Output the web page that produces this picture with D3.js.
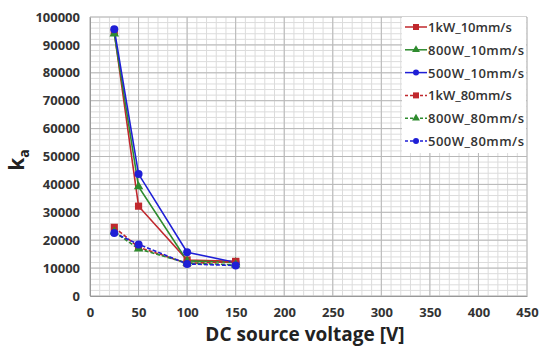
<!DOCTYPE html>
<html>
<head>
<meta charset="utf-8">
<script src="https://cdn.jsdelivr.net/npm/d3@7"></script>
<style>
  body { margin: 0; background: #fff; }
  text { font-family: "Open Sans", "Noto Sans", sans-serif; }
</style>
</head>
<body>
<script>
// voltages on the x axis
var voltages = [25, 50, 100, 150];

var seriesNames = ["1kW_10mm/s", "800W_10mm/s", "500W_10mm/s", "1kW_80mm/s", "800W_80mm/s", "500W_80mm/s"];
var seriesColors = ["#c0282d", "#2e8b2e", "#1f1fd6", "#c0282d", "#2e8b2e", "#1f1fd6"];
var seriesShapes = ["square", "triangle", "circle", "square", "triangle", "circle"];
var seriesDashed = [false, false, false, true, true, true];

var kw1_10 = [94500, 32200, 12900, 12400];
var w800_10 = [94000, 39200, 12600, 12000];
var w500_10 = [95600, 43700, 15700, 12000];
var kw1_80 = [24600, 17500, 11700, 12300];
var w800_80 = [23000, 16900, 11800, 11200];
var w500_80 = [22600, 18500, 11500, 10900];

var seriesValues = [kw1_10, w800_10, w500_10, kw1_80, w800_80, w500_80];

var xTicks = [0, 50, 100, 150, 200, 250, 300, 350, 400, 450];
var yTicks = [0, 10000, 20000, 30000, 40000, 50000, 60000, 70000, 80000, 90000, 100000];

var margin = {top: 17, right: 23, bottom: 62, left: 90},
    width = 550 - margin.left - margin.right,
    height = 358 - margin.top - margin.bottom;

var svg = d3.select("body").append("svg")
    .attr("width", 550)
    .attr("height", 358);

var g = svg.append("g")
    .attr("transform", "translate(" + margin.left + "," + margin.top + ")");

var x = d3.scaleLinear().domain([0, 450]).range([0, width]);
var y = d3.scaleLinear().domain([0, 100000]).range([height, 0]);

// minor grid
g.append("g")
  .selectAll("line")
  .data(d3.range(0, 451, 10))
  .join("line")
  .attr("x1", d => x(d)).attr("x2", d => x(d))
  .attr("y1", 0).attr("y2", height)
  .attr("stroke", "#dcdcdc").attr("stroke-width", 1);

g.append("g")
  .selectAll("line")
  .data(d3.range(0, 100001, 2000))
  .join("line")
  .attr("y1", d => y(d)).attr("y2", d => y(d))
  .attr("x1", 0).attr("x2", width)
  .attr("stroke", "#dcdcdc").attr("stroke-width", 1);

// major grid
g.append("g")
  .selectAll("line")
  .data(xTicks)
  .join("line")
  .attr("x1", d => x(d)).attr("x2", d => x(d))
  .attr("y1", 0).attr("y2", height)
  .attr("stroke", "#b8b8b8").attr("stroke-width", 1);

g.append("g")
  .selectAll("line")
  .data(yTicks)
  .join("line")
  .attr("y1", d => y(d)).attr("y2", d => y(d))
  .attr("x1", 0).attr("x2", width)
  .attr("stroke", "#b8b8b8").attr("stroke-width", 1);

// axes
var xAxis = g.append("g")
  .attr("transform", "translate(0," + height + ")")
  .call(d3.axisBottom(x).tickValues(xTicks).tickSize(0).tickPadding(12));
var yAxis = g.append("g")
  .call(d3.axisLeft(y).tickValues(yTicks).tickFormat(d3.format("d")).tickSize(0).tickPadding(10));

[xAxis, yAxis].forEach(function(a) {
  a.select(".domain").attr("stroke", "#999");
  a.selectAll("text")
    .attr("font-size", "13px")
    .attr("font-weight", "bold")
    .attr("fill", "#333")
    .style("font-family", "'Open Sans', sans-serif");
});

// marker drawing
function marker(sel, shape, color, size) {
  if (shape === "square") {
    sel.append("rect").attr("x", -size).attr("y", -size)
      .attr("width", size * 2).attr("height", size * 2).attr("fill", color);
  } else if (shape === "triangle") {
    sel.append("path").attr("d", d3.symbol(d3.symbolTriangle, size * size * 3)()).attr("fill", color);
  } else {
    sel.append("circle").attr("r", size).attr("fill", color);
  }
}

var line = d3.line()
  .x(function(d, i) { return x(voltages[i]); })
  .y(function(d) { return y(d); });

seriesValues.forEach(function(vals, s) {
  g.append("path")
    .datum(vals)
    .attr("d", line)
    .attr("fill", "none")
    .attr("stroke", seriesColors[s])
    .attr("stroke-width", 1.6)
    .attr("stroke-dasharray", seriesDashed[s] ? "4,2" : null);
});

seriesValues.forEach(function(vals, s) {
  g.selectAll(null)
    .data(vals)
    .join("g")
    .attr("transform", function(d, i) { return "translate(" + x(voltages[i]) + "," + y(d) + ")"; })
    .each(function() { marker(d3.select(this), seriesShapes[s], seriesColors[s], seriesShapes[s] === "circle" ? 4 : 3.6); });
});

// legend
var legend = svg.append("g").attr("transform", "translate(402,17)");
legend.append("rect")
  .attr("width", 124).attr("height", 136)
  .attr("fill", "#fff");

seriesNames.forEach(function(name, i) {
  var row = legend.append("g").attr("transform", "translate(0," + (10 + i * 22.8) + ")");
  row.append("line")
    .attr("x1", 3).attr("x2", 25)
    .attr("stroke", seriesColors[i]).attr("stroke-width", 1.5)
    .attr("stroke-dasharray", seriesDashed[i] ? "3,2" : null);
  var m = row.append("g").attr("transform", "translate(14,0)");
  marker(m, seriesShapes[i], seriesColors[i], 3);
  row.append("text")
    .attr("x", 26).attr("y", 5)
    .attr("font-size", "13px")
    .attr("font-weight", "600")
    .attr("fill", "#333")
    .attr("textLength", name.length > 10 ? 96 : null)
    .text(name);
});

// axis titles
svg.append("text")
  .attr("x", 305).attr("y", 341)
  .attr("text-anchor", "middle")
  .attr("font-size", "19px")
  .attr("font-weight", "bold")
  .attr("fill", "#222")
  .text("DC source voltage [V]");

var yt = svg.append("text")
  .attr("transform", "translate(24,160) rotate(-90)")
  .attr("text-anchor", "middle")
  .attr("font-size", "21px")
  .attr("font-weight", "bold")
  .attr("fill", "#222");
yt.append("tspan").text("k");
yt.append("tspan").attr("font-size", "14px").attr("dy", "5").text("a");
</script>
</body>
</html>
